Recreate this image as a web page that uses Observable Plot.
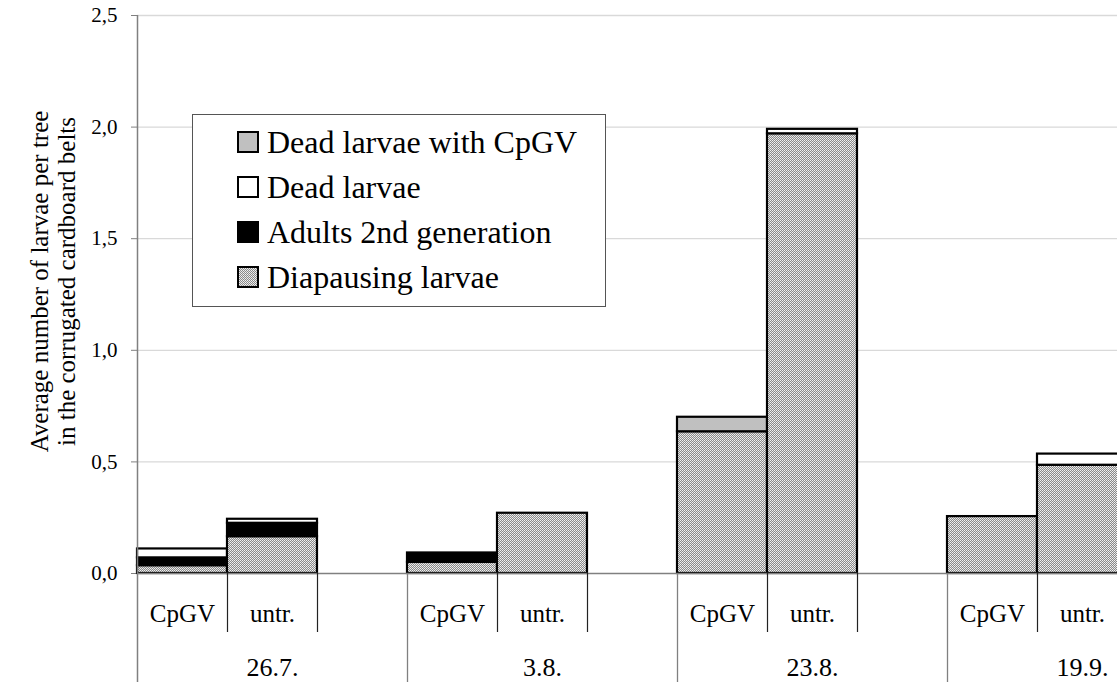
<!DOCTYPE html>
<html>
<head>
<meta charset="utf-8">
<script src="https://cdn.jsdelivr.net/npm/d3@7"></script>
<script src="https://cdn.jsdelivr.net/npm/@observablehq/plot@0.6"></script>
<style>
  html, body { margin: 0; padding: 0; background: #fff; }
  #wrap { position: relative; width: 1117px; height: 682px; font-family: "Liberation Serif", "Times New Roman", serif; }
  #legend { position: absolute; left: 192px; top: 114px; width: 414px; height: 193px; border: 1px solid #555; background: #fff; box-sizing: border-box; }
  .item { position: absolute; left: 44px; height: 44px; display: flex; align-items: center; font-size: 32px; color: #000; white-space: nowrap; }
  .item svg { margin-right: 8px; }
</style>
</head>
<body>
<div id="wrap"></div>
<script>
// ---- data ----
const dates = ["26.7.", "3.8.", "23.8.", "19.9."];
const treatments = ["CpGV", "untr."];
// stacked bottom -> top
const seriesNames = ["Diapausing larvae", "Adults 2nd generation", "Dead larvae", "Dead larvae with CpGV"];
// values per bar: 26.7. CpGV, 26.7. untr., 3.8. CpGV, 3.8. untr., 23.8. CpGV, 23.8. untr., 19.9. CpGV, 19.9. untr.
const diapausing = [0.035, 0.165, 0.050, 0.270, 0.635, 1.970, 0.255, 0.485];
const adults     = [0.035, 0.060, 0.042, 0.000, 0.000, 0.000, 0.000, 0.000];
const dead       = [0.040, 0.018, 0.000, 0.000, 0.000, 0.020, 0.000, 0.050];
const deadCpGV   = [0.000, 0.000, 0.000, 0.000, 0.065, 0.000, 0.000, 0.000];
const yTicks = [0, 0.5, 1.0, 1.5, 2.0, 2.5];
const yTitle = "Average number of larvae per tree\nin the corrugated cardboard belts";

// ---- layout / style ----
const W = 1117, H = 682, mL = 137, mT = 15, mB = 109, mR = 0;
const frameH = H - mT - mB;
const fills = {
  "Diapausing larvae": "url(#dots)",
  "Adults 2nd generation": "#000000",
  "Dead larvae": "#ffffff",
  "Dead larvae with CpGV": "#c0c0c0"
};

const cats = [];
dates.forEach(d => { treatments.forEach(t => cats.push(d + "|" + t)); cats.push(d + "|"); });
const xRange = [mL, mL + cats.length * 90];
const bw = (xRange[1] - xRange[0]) / cats.length;

const seriesValues = [diapausing, adults, dead, deadCpGV];
const rows = [];
dates.forEach((d, i) => treatments.forEach((t, j) => {
  const k = i * treatments.length + j;
  seriesNames.forEach((s, si) => {
    const v = seriesValues[si][k];
    if (v > 0) rows.push({cat: d + "|" + t, series: s, value: v});
  });
}));
const treatLabels = [];
dates.forEach(d => treatments.forEach(t => treatLabels.push({cat: d + "|" + t, text: t})));
const dateLabels = dates.map(d => ({cat: d + "|" + treatments[1], text: d}));
const groupStarts = dates.slice(1).map(d => d + "|" + treatments[0]);
const shortSeps = [];
dates.forEach(d => { shortSeps.push(d + "|" + treatments[1]); shortSeps.push(d + "|"); });

const chart = Plot.plot({
  width: W, height: H,
  marginLeft: mL, marginRight: mR, marginTop: mT, marginBottom: mB,
  style: {fontFamily: "'Liberation Serif', 'Times New Roman', serif", fontSize: "22px", background: "#fff", color: "#000"},
  x: {type: "band", domain: cats, range: xRange, padding: 0, axis: null},
  y: {domain: [0, 2.5], axis: null},
  color: {type: "identity"},
  marks: [
    Plot.ruleY(yTicks.slice(1), {stroke: "#d9d9d9", strokeWidth: 1.3}),
    Plot.axisY({ticks: yTicks, tickSize: 6, tickPadding: 14, stroke: "#808080", tickFormat: d => d.toFixed(1).replace(".", ","), fontSize: 21, label: null}),
    Plot.barY(rows, {x: "cat", y: "value", z: "series", order: seriesNames, fill: d => fills[d.series], stroke: "#000", strokeWidth: 2.2}),
    Plot.ruleY([0], {stroke: "#808080", strokeWidth: 1.5}),
    Plot.ruleX([cats[0]], {x: d => d, dx: -bw / 2, stroke: "#808080", strokeWidth: 1.5, insetBottom: -mB}),
    Plot.ruleX(groupStarts, {x: d => d, dx: -bw / 2, stroke: "#808080", strokeWidth: 1.3, insetTop: frameH, insetBottom: -mB}),
    Plot.ruleX(shortSeps, {x: d => d, dx: -bw / 2, stroke: "#222", strokeWidth: 1.2, insetTop: frameH, insetBottom: -59}),
    Plot.text(treatLabels, {x: "cat", y: 0, text: "text", dy: 40, fontSize: 25}),
    Plot.text(dateLabels, {x: "cat", y: 0, text: "text", dy: 94, fontSize: 26}),
    Plot.text([yTitle], {frameAnchor: "left", text: d => d, rotate: -90, textAnchor: "middle", lineAnchor: "middle", dx: -85, dy: -13, fontSize: 25, lineHeight: 1.1})
  ]
});

// pattern for diapausing larvae
const ns = "http://www.w3.org/2000/svg";
function addPattern(svg) {
  const defs = document.createElementNS(ns, "defs");
  defs.innerHTML = '<pattern id="dots" width="2" height="2" patternUnits="userSpaceOnUse">' +
    '<rect width="2" height="2" fill="#8a8a8a"/><rect x="0" y="0" width="1" height="1" fill="#f2f2f2"/>' +
    '<rect x="1" y="1" width="1" height="1" fill="#e0e0e0"/></pattern>';
  svg.insertBefore(defs, svg.firstChild);
}
addPattern(chart);
document.getElementById("wrap").appendChild(chart);

// legend (inside plot area)
const legend = document.createElement("div");
legend.id = "legend";
const legendOrder = seriesNames.slice().reverse();
legendOrder.forEach((s, i) => {
  const it = document.createElement("div");
  it.className = "item";
  it.style.top = (5 + i * 45) + "px";
  const sw = document.createElementNS(ns, "svg");
  sw.setAttribute("width", 22); sw.setAttribute("height", 22);
  if (fills[s].startsWith("url")) addPattern(sw);
  const r = document.createElementNS(ns, "rect");
  r.setAttribute("x", 1); r.setAttribute("y", 1); r.setAttribute("width", 20); r.setAttribute("height", 20);
  r.setAttribute("fill", fills[s]); r.setAttribute("stroke", "#000"); r.setAttribute("stroke-width", 2);
  sw.appendChild(r);
  it.appendChild(sw);
  it.appendChild(document.createTextNode(s));
  legend.appendChild(it);
});
document.getElementById("wrap").appendChild(legend);
</script>
</body>
</html>
